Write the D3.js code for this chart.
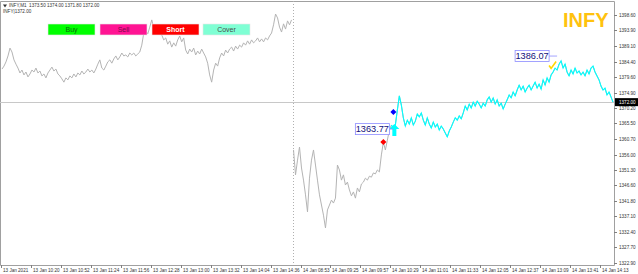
<!DOCTYPE html>
<html><head><meta charset="utf-8">
<script src="https://cdn.jsdelivr.net/npm/d3@7"></script>
<style>html,body{margin:0;padding:0;background:#fff;}svg{display:block;font-family:"Liberation Sans",Arial,sans-serif;}</style>
</head><body><svg id="c" width="638" height="274"></svg>
<script>
// ---- data ----
const closeJan13 = [
1382.1,1383.0,1384.3,1386.1,1388.5,1387.3,1384.9,1383.6,1382.4,1380.9,
1381.8,1380.3,1381.2,1379.7,1380.6,1381.8,1381.2,1382.4,1380.9,1381.5,
1380.0,1380.6,1379.4,1380.9,1381.8,1382.7,1381.5,1382.1,1380.6,1380.0,
1379.1,1378.1,1379.4,1378.8,1380.0,1379.4,1380.6,1379.7,1380.9,1380.3,
1381.5,1380.6,1381.2,1382.1,1381.2,1381.8,1380.9,1382.1,1383.6,1384.9,
1382.4,1381.8,1383.0,1384.3,1384.9,1383.9,1385.2,1386.1,1384.9,1385.8,
1387.0,1386.1,1386.4,1385.8,1387.0,1386.4,1387.0,1386.1,1386.7,1387.3,
1389.4,1393.1,1394.0,1392.8,1394.9,1397.1,1394.6,1395.6,1393.7,1394.3,
1392.5,1391.0,1391.6,1389.7,1390.7,1388.8,1390.1,1389.1,1391.0,1392.2,
1390.4,1391.6,1387.9,1386.7,1388.2,1387.3,1388.5,1386.4,1387.6,1386.7,
1388.2,1387.0,1385.8,1383.9,1380.3,1378.1,1381.8,1383.9,1383.0,1385.5,
1387.0,1386.1,1387.9,1387.0,1388.2,1388.8,1387.6,1389.1,1388.2,1389.4,
1388.8,1390.1,1389.4,1390.7,1389.7,1391.0,1390.1,1390.7,1391.6,1390.4,
1391.3,1390.4,1391.6,1391.0,1392.2,1393.1,1395.6,1398.9,1397.7,1394.9,
1393.4,1395.9,1394.3,1396.8,1395.6,1397.1
];
const closeJan14 = [
1357.4,1349.8,1354.3,1358.3,1351.9,1348.2,1343.7,1338.5,1348.8,1354.3,
1357.4,1352.8,1348.2,1343.7,1340.6,1337.5,1333.6,1339.1,1340.6,1342.1,
1341.2,1342.7,1352.8,1351.3,1348.2,1349.8,1346.7,1347.6,1345.2,1343.4,
1344.6,1342.7,1345.8,1344.6,1347.0,1347.6,1348.8,1348.2,1349.4,1349.1,
1350.4,1350.1,1351.3,1350.7,1355.9,1359.8,1357.4,1360.4,1363.5,1365.0
];
const closeTrade = [
1364.1,1365.0,1369.6,1373.9,1371.1,1367.2,1364.7,1366.5,1365.3,1367.2,
1365.0,1366.2,1368.4,1367.5,1368.7,1366.5,1365.0,1367.2,1365.3,1364.1,
1365.9,1364.4,1365.3,1363.5,1364.7,1363.8,1362.6,1361.4,1363.2,1364.4,
1365.9,1367.2,1366.5,1367.8,1366.9,1368.7,1370.8,1369.6,1371.4,1370.2,
1372.0,1370.8,1372.3,1371.4,1370.2,1371.7,1370.8,1372.7,1373.6,1372.0,
1373.3,1371.4,1372.7,1370.8,1371.7,1369.9,1371.4,1372.7,1374.2,1373.3,
1375.1,1373.9,1375.7,1377.2,1375.7,1376.9,1375.1,1376.3,1377.2,1375.7,
1376.9,1378.1,1376.3,1377.5,1376.0,1378.8,1377.2,1379.4,1378.1,1380.3,
1381.2,1382.4,1381.8,1383.6,1384.6,1382.4,1383.6,1381.2,1380.0,1381.8,
1380.6,1382.4,1380.9,1381.5,1380.3,1381.2,1380.0,1381.8,1380.6,1382.4,
1383.0,1381.2,1380.0,1378.8,1376.9,1375.7,1376.3,1374.2,1375.1,1373.6,
1372.0
];
const xTickLabels = ["13 Jan 2021","13 Jan 10:20","13 Jan 10:52","13 Jan 11:24","13 Jan 11:56","13 Jan 12:28",
"13 Jan 13:00","13 Jan 13:32","13 Jan 14:04","13 Jan 14:36","14 Jan 08:53","14 Jan 09:25","14 Jan 09:57",
"14 Jan 10:29","14 Jan 11:01","14 Jan 11:33","14 Jan 12:05","14 Jan 12:37","14 Jan 13:09","14 Jan 13:41","14 Jan 14:13"];
const yTickValues = [1398.60,1393.90,1389.10,1384.40,1379.60,1374.90,1370.20,1365.50,1360.70,1356.00,
1351.30,1346.60,1341.80,1337.10,1332.40,1327.70,1322.90];
const bidPrice = 1372.00;
const titleText = "INFY,M1  1373.50 1374.00 1371.80 1372.00";
const symbolText = "INFY|1372.00";
const buttonLabels = ["Buy","Sell","Short","Cover"];
const buttonFills = ["#00ff00","#ff1493","#ff0000","#7fffd4"];
const buttonTextColors = ["#0a6b0a","#7a0a4a","#ffffff","#4a4a4a"];
const entryPrice = 1363.77, exitPrice = 1386.07;
const redMarkPrice = 1359.8, blueMarkPrice = 1369.0, arrowPrice = 1365.3, checkPrice = 1383.2;

// ---- layout ----
const svg = d3.select("#c");
const L = 0, R = 614, T = 1, B = 265;
const all = closeJan13.concat(closeJan14, closeTrade);
const n = all.length;
const x = d3.scaleLinear().domain([0, n - 1]).range([2, 613]);
const y = d3.scaleLinear().domain([1322.9, 1398.6]).range([263, 15]);
const line = d3.line().x(d => x(d.i)).y(d => y(d.v));
const pts = all.map((v, i) => ({i, v}));

svg.append("rect").attr("width", 638).attr("height", 274).attr("fill", "#fff");

// frame
svg.append("path").attr("d", `M${L+0.5},${B+0.5}V${T+0.5}H${R+0.5}V${B+0.5}H${L+0.5}`)
  .attr("fill", "none").attr("stroke", "#a0a0a0").attr("stroke-width", 1);

// bid line
svg.append("line").attr("x1", L).attr("x2", R).attr("y1", Math.round(y(bidPrice)) + 0.5).attr("y2", Math.round(y(bidPrice)) + 0.5)
  .attr("stroke", "#c8c8c8").attr("stroke-width", 1);

// period separator
const sepIdx = closeJan13.length - 0.5;
svg.append("line").attr("x1", Math.round(x(sepIdx)) + 0.5).attr("x2", Math.round(x(sepIdx)) + 0.5).attr("y1", T).attr("y2", B)
  .attr("stroke", "#b0b0b0").attr("stroke-dasharray", "1,2");

// price line (one path per session)
const d1 = pts.slice(0, closeJan13.length);
const d2 = pts.slice(closeJan13.length);
[d1, d2].forEach(seg => svg.append("path").datum(seg).attr("d", line).attr("fill", "none")
  .attr("stroke", "#b4b4b4").attr("stroke-width", 1));

// trade line (cyan)
const tStart = closeJan13.length + closeJan14.length - 1;
svg.append("path").datum(pts.slice(tStart)).attr("d", line).attr("fill", "none").attr("stroke", "#00ffff").attr("stroke-width", 1.1);

// y axis ticks & labels
const yg = svg.append("g");
yTickValues.forEach(v => {
  const yy = Math.round(y(v)) + 0.5;
  yg.append("line").attr("x1", R).attr("x2", R + 3).attr("y1", yy).attr("y2", yy).attr("stroke", "#808080");
  yg.append("text").attr("x", R + 5).attr("y", yy + 1.6).attr("font-size", 4.6).attr("fill", "#333").text(v.toFixed(2));
});
// current price box
const by = y(bidPrice);
svg.append("rect").attr("x", R + 1).attr("y", by - 4).attr("width", 23).attr("height", 8).attr("fill", "#000");
svg.append("text").attr("x", R + 5).attr("y", by + 1.7).attr("font-size", 4.6).attr("fill", "#fff").text(bidPrice.toFixed(2));

// x axis ticks & labels
const xg = svg.append("g");
xTickLabels.forEach((lab, k) => {
  const xx = Math.round(x(k * 15)) - 0.5;
  xg.append("line").attr("x1", xx).attr("x2", xx).attr("y1", B).attr("y2", B + 3).attr("stroke", "#808080");
  xg.append("text").attr("x", xx + 1.5).attr("y", 272).attr("font-size", 4.6).attr("fill", "#333").text(lab);
});

// title
svg.append("path").attr("d", "M3,4.5h4l-2,3z").attr("fill", "#333");
svg.append("text").attr("x", 9).attr("y", 7.3).attr("font-size", 4.6).attr("fill", "#333").attr("xml:space", "preserve").text(titleText);
svg.append("text").attr("x", 3).attr("y", 13.3).attr("font-size", 4.6).attr("fill", "#333").text(symbolText);

// buttons
const bx = [48, 100, 152, 203];
buttonLabels.forEach((lab, k) => {
  svg.append("rect").attr("x", bx[k]).attr("y", 24).attr("width", 47).attr("height", 11)
    .attr("fill", buttonFills[k]).attr("stroke", "#e6e6e6").attr("stroke-width", 0.6);
  svg.append("text").attr("x", bx[k] + 23.5).attr("y", 32.2).attr("text-anchor", "middle")
    .attr("font-size", 7).attr("font-weight", k === 2 ? "bold" : "normal").attr("fill", buttonTextColors[k]).text(lab);
});

// watermark
svg.append("text").attr("x", 563).attr("y", 27).attr("font-size", 20).attr("font-weight", "bold")
  .attr("fill", "#ffc20e").text("INFY");

// markers
const diamond = (cx, cy, r, col) => svg.append("path")
  .attr("d", `M${cx},${cy - r}L${cx + r},${cy}L${cx},${cy + r}L${cx - r},${cy}Z`).attr("fill", col);
svg.append("circle").attr("cx", x(190.3)).attr("cy", y(redMarkPrice)).attr("r", 1.2).attr("fill", "#ff9000");
diamond(x(191), y(redMarkPrice), 3, "#ff0000");
diamond(x(196), y(blueMarkPrice), 3, "#0000ff");
// buy arrow (up)
{
  const ax = x(196.5), ay = y(arrowPrice);
  svg.append("path").attr("d", `M${ax},${ay}L${ax + 5},${ay + 5}L${ax + 2},${ay + 5}L${ax + 2},${ay + 12}L${ax - 2},${ay + 12}L${ax - 2},${ay + 5}L${ax - 5},${ay + 5}Z`)
    .attr("fill", "#00ffff");
}
// yellow check
{
  const cx = x(275.5), cy = y(checkPrice);
  svg.append("path").attr("d", `M${cx - 3},${cy}L${cx - 1},${cy + 3}L${cx + 4},${cy - 4}`)
    .attr("fill", "none").attr("stroke", "#ffd700").attr("stroke-width", 1.6);
}

// price labels
function priceLabel(v, rightIdx, lineEndIdx) {
  const xr = x(rightIdx), yy = y(v);
  const w = 34, h = 11;
  svg.append("line").attr("x1", xr).attr("x2", x(lineEndIdx)).attr("y1", yy).attr("y2", yy).attr("stroke", "#8c8cff").attr("stroke-width", 0.8);
  svg.append("rect").attr("x", xr - w).attr("y", yy - h / 2).attr("width", w).attr("height", h)
    .attr("fill", "#fff").attr("stroke", "#8c8cff").attr("stroke-width", 0.8);
  svg.append("text").attr("x", xr - w / 2).attr("y", yy + 3.3).attr("text-anchor", "middle")
    .attr("font-size", 9.2).attr("fill", "#10107a").text(v.toFixed(2));
}
priceLabel(entryPrice, 194, 196);
priceLabel(exitPrice, 274, 278);
</script></body></html>
